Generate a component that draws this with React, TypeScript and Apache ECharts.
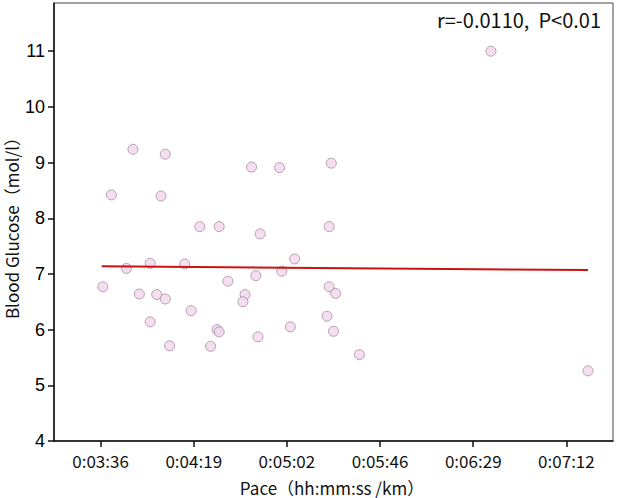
import React, { useEffect, useRef } from "react";
import * as echarts from "echarts";

// Pace per km in seconds, blood glucose in mmol/L
const paceSeconds = [
  231, 246, 286, 299, 221, 244, 262, 271, 290, 306,
  239, 255, 228, 300, 288, 275, 217, 234, 242, 246,
  283, 282, 258, 239, 270, 271, 304, 289, 248, 267,
  323, 322, 322, 325, 321, 324, 336, 397, 442,
];
const glucose = [
  9.24, 9.15, 8.92, 8.91, 8.42, 8.40, 7.85, 7.85, 7.72, 7.27,
  7.19, 7.18, 7.10, 7.05, 6.97, 6.87, 6.77, 6.64, 6.63, 6.55,
  6.63, 6.50, 6.34, 6.14, 6.00, 5.96, 6.05, 5.87, 5.71, 5.70,
  8.99, 7.85, 6.77, 6.65, 6.24, 5.97, 5.55, 11.0, 5.26,
];

// Fitted regression line endpoints
const fitX = [216.5, 442];
const fitY = [7.14, 7.07];

const xTicks = [216, 259.2, 302.4, 345.6, 388.8, 432];
const yTicks = [4, 5, 6, 7, 8, 9, 10, 11];
const xTitle = "Pace（hh:mm:ss /km）";
const yTitle = "Blood Glucose（mol/l）";
const annotation = "r=-0.0110,  P<0.01";

const cjk = '"Noto Sans CJK SC", "Noto Sans", sans-serif';

function toClock(sec: number): string {
  const s = Math.round(sec);
  const h = Math.floor(s / 3600);
  const m = Math.floor((s % 3600) / 60);
  const r = s % 60;
  return `${h}:${String(m).padStart(2, "0")}:${String(r).padStart(2, "0")}`;
}

export default function App() {
  const ref = useRef<HTMLDivElement>(null);

  useEffect(() => {
    if (!ref.current) return;
    const chart = echarts.init(ref.current, null, { renderer: "svg" });
    const points = paceSeconds.map((x, i) => [x, glucose[i]]);
    const fit = fitX.map((x, i) => [x, fitY[i]]);

    chart.setOption({
      animation: false,
      backgroundColor: "#ffffff",
      grid: {
        left: 54,
        right: 4,
        top: 3,
        bottom: 57,
        show: true,
        borderColor: "#444",
        borderWidth: 1,
        outerBoundsMode: "none",
      },
      xAxis: {
        type: "value",
        min: 194.4,
        max: 453.6,
        axisLine: { show: true, onZero: false, lineStyle: { color: "#111", width: 1.5 } },
        axisTick: {
          show: true,
          length: 6,
          customValues: xTicks,
          lineStyle: { color: "#111", width: 1.5 },
        },
        axisLabel: {
          customValues: xTicks,
          formatter: (v: number) => toClock(v),
          fontFamily: cjk,
          fontSize: 17,
          color: "#111",
          margin: 11,
        },
        splitLine: { show: false },
      },
      yAxis: {
        type: "value",
        min: 4,
        max: 11.866,
        axisLine: { show: true, onZero: false, lineStyle: { color: "#111", width: 1.5 } },
        axisTick: {
          show: true,
          length: 6,
          customValues: yTicks,
          lineStyle: { color: "#111", width: 1.5 },
        },
        axisLabel: {
          customValues: yTicks,
          fontFamily: '"Liberation Sans", Arial, sans-serif',
          fontSize: 18,
          color: "#000",
          margin: 9,
        },
        splitLine: { show: false },
      },
      graphic: [
        {
          type: "text",
          right: 16,
          top: 9,
          style: {
            text: annotation,
            fontFamily: cjk,
            fontSize: 20,
            fill: "#111",
          },
        },
        {
          type: "text",
          x: 332,
          y: 487,
          style: {
            text: xTitle,
            fontFamily: cjk,
            fontSize: 17,
            fill: "#111",
            align: "center",
            verticalAlign: "middle",
          },
        },
        {
          type: "text",
          x: 11,
          y: 224,
          rotation: Math.PI / 2,
          style: {
            text: yTitle,
            fontFamily: cjk,
            fontSize: 17,
            fill: "#111",
            align: "center",
            verticalAlign: "middle",
          },
        },
      ],
      series: [
        {
          type: "line",
          data: fit,
          symbol: "none",
          lineStyle: { color: "#cc1111", width: 2 },
          z: 3,
        },
        {
          type: "scatter",
          data: points,
          symbol: "circle",
          symbolSize: 10,
          itemStyle: {
            color: "#f1d6ec",
            borderColor: "#a58ca2",
            borderWidth: 1,
          },
          z: 2,
        },
      ],
    });

    return () => chart.dispose();
  }, []);

  return (
    <div
      ref={ref}
      style={{ position: "fixed", left: 0, top: 0, width: 617, height: 498 }}
    />
  );
}
